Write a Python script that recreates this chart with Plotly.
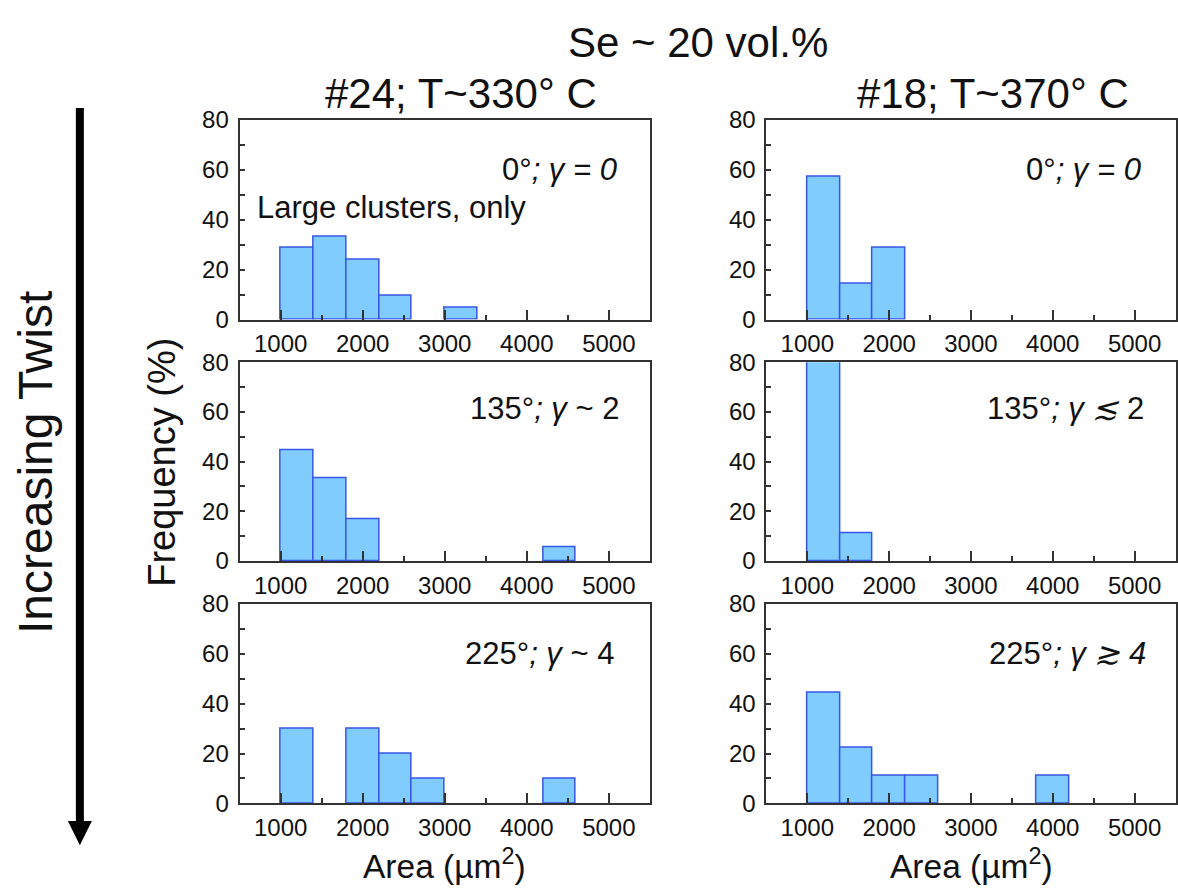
import plotly.graph_objects as go
from plotly.subplots import make_subplots

# ---------------- data ----------------
bin_left = [1000, 1400, 1800, 2200, 2600, 3000, 3400, 3800, 4200]
bin_width = 400

freq_24_0 = [28.6, 33.3, 23.8, 9.5, None, 4.8, None, None, None]
freq_24_135 = [44.4, 33.3, 16.7, None, None, None, None, None, 5.6]
freq_24_225 = [30.0, None, 30.0, 20.0, 10.0, None, None, None, 10.0]
freq_18_0 = [57.1, 14.3, 28.6, None, None, None, None, None, None]
freq_18_135 = [88.9, 11.1, None, None, None, None, None, None, None]
freq_18_225 = [44.4, 22.2, 11.1, 11.1, None, None, None, 11.1, None]

panel_labels_24 = ["0°<i>; γ = 0</i>", "135°<i>; γ</i> ~ 2", "225°<i>; γ</i> ~ 4"]
panel_labels_18 = ["0°<i>; γ = 0</i>", "135°<i>; γ ≲</i> 2", "225°<i>; γ ≳ 4</i>"]

x_tick_vals = [1000, 2000, 3000, 4000, 5000]
x_minor_vals = [1500, 2500, 3500, 4500]
y_tick_vals = [0, 20, 40, 60, 80]
y_minor_vals = [10, 30, 50, 70]

main_title = "Se ~ 20 vol.%"
col_titles = ["#24; T~330° C", "#18; T~370° C"]
x_title = "Area (µm<sup>2</sup>)"
y_title = "Frequency (%)"
side_title = "Increasing Twist"
note = "Large clusters, only"

# ---------------- layout geometry ----------------
W, H = 1178, 896
col_px = [(240, 651), (767.7, 1177.5)]
row_px = [(109, 315), (359, 564), (608, 814)]
label_x = [[0.925, 0.921], [0.93, 0.928], [0.917, 0.933]]
label_y = [60, 61.5, 60]

FONT = "Liberation Sans, Arial, sans-serif"
FILL = "rgb(128,204,255)"
EDGE = "rgb(55,85,230)"
AXC = "#333333"
TXT = "#111111"

fig = make_subplots(rows=3, cols=2)

data = [[freq_24_0, freq_18_0], [freq_24_135, freq_18_135], [freq_24_225, freq_18_225]]
labels = [[panel_labels_24[i], panel_labels_18[i]] for i in range(3)]

for r in range(3):
    for c in range(2):
        fig.add_trace(
            go.Bar(
                x=bin_left, y=data[r][c], width=bin_width, offset=0,
                marker=dict(color=FILL, line=dict(color=EDGE, width=1.5)),
                showlegend=False, hoverinfo="skip",
            ),
            row=r + 1, col=c + 1,
        )
        idx = r * 2 + c + 1
        xa = "xaxis" if idx == 1 else f"xaxis{idx}"
        ya = "yaxis" if idx == 1 else f"yaxis{idx}"
        x0, x1 = col_px[c]
        y0, y1 = row_px[r]
        fig.layout[xa].update(
            domain=[x0 / W, x1 / W], range=[500, 5500],
            tickmode="array", tickvals=x_tick_vals,
            ticks="inside", ticklen=10, tickwidth=1.5, tickcolor=AXC,
            minor=dict(ticks="inside", ticklen=5, tickwidth=1.5, tickcolor=AXC,
                       tickmode="array", tickvals=x_minor_vals),
            showline=True, linecolor=AXC, linewidth=2, mirror=True,
            showgrid=False, zeroline=False,
            tickfont=dict(family=FONT, size=24, color=TXT),
            ticklabelstandoff=2,
        )
        fig.layout[ya].update(
            domain=[1 - y1 / H, 1 - y0 / H], range=[0, 80],
            tickmode="array", tickvals=y_tick_vals,
            ticks="inside", ticklen=5, tickwidth=1.5, tickcolor=AXC,
            minor=dict(ticks="inside", ticklen=5, tickwidth=1.5, tickcolor=AXC,
                       tickmode="array", tickvals=y_minor_vals),
            showline=True, linecolor=AXC, linewidth=2, mirror=True,
            showgrid=False, zeroline=False,
            tickfont=dict(family=FONT, size=24, color=TXT),
            ticklabelstandoff=4,
        )
        xr = "x" if idx == 1 else f"x{idx}"
        yr = "y" if idx == 1 else f"y{idx}"
        fig.add_annotation(
            text=labels[r][c], xref=f"{xr} domain", yref=yr,
            x=label_x[r][c], y=label_y[r], xanchor="right", yanchor="middle",
            showarrow=False, font=dict(family=FONT, size=31, color=TXT),
        )

fig.add_annotation(
    text=note, xref="x domain", yref="y", x=0.0365, y=44.7,
    xanchor="left", yanchor="middle", showarrow=False,
    font=dict(family=FONT, size=31, color=TXT),
)

def px_ann(text, x, y, size, angle=0):
    fig.add_annotation(
        text=text, xref="paper", yref="paper", x=x / W, y=1 - y / H,
        xanchor="center", yanchor="middle", showarrow=False, textangle=angle,
        font=dict(family=FONT, size=size, color=TXT),
    )

px_ann(main_title, 699, 29, 42)
px_ann(col_titles[0], 462, 82, 42)
px_ann(col_titles[1], 995, 82, 42)
px_ann(y_title, 162, 462, 38, -90)
px_ann(side_title, 35, 462, 48, -90)
px_ann(x_title, 445, 876, 33.5)
px_ann(x_title, 973, 876, 33.5)

# arrow (decoration)
fig.add_shape(type="line", xref="paper", yref="paper",
              x0=80 / W, x1=80 / W, y0=1 - 97 / H, y1=1 - 835 / H,
              line=dict(color="black", width=8))
fig.add_shape(type="path", xref="paper", yref="paper",
              path=f"M {68/W} {1-832/H} L {92/W} {1-832/H} L {80/W} {1-857/H} Z",
              fillcolor="black", line=dict(color="black", width=0))

fig.update_layout(
    width=W, height=H, margin=dict(l=0, r=0, t=0, b=0),
    paper_bgcolor="white", plot_bgcolor="white",
    bargap=0, showlegend=False,
)

fig.write_html(
    "out.html",
    config={"displayModeBar": False},
    post_script="document.body.style.margin='0';document.body.style.overflow='hidden';",
)
